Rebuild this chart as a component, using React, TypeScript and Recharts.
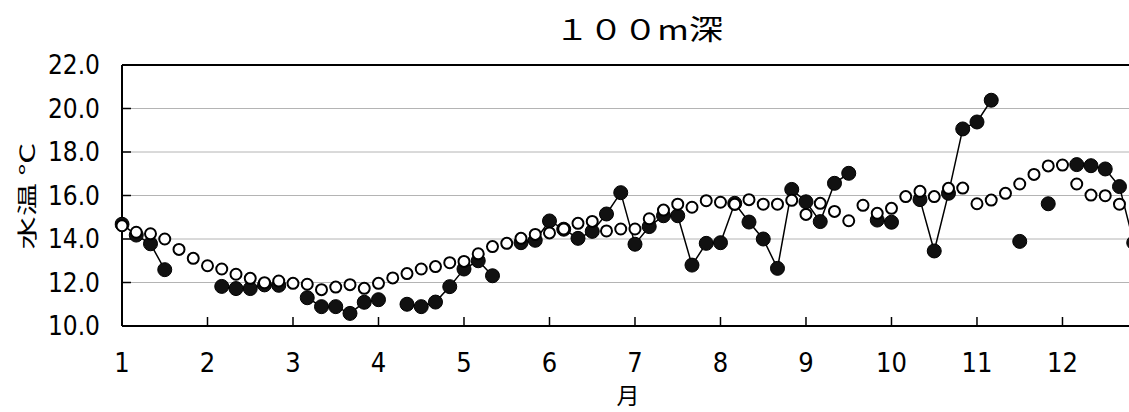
import React from "react";
import { CartesianGrid, Line, LineChart, ReferenceLine, XAxis, YAxis } from "recharts";

// 半旬 (5-day) steps, 6 per month, starting at Jan 1
const observed: (number | null)[] = [
  14.68, 14.18, 13.78, 12.59, null, null,
  null, 11.82, 11.72, 11.72, 11.89, 11.87,
  null, 11.3, 10.89, 10.89, 10.58, 11.09,
  11.21, null, 11.0, 10.89, 11.1, 11.81,
  12.62, 13.0, 12.31, null, 13.83, 13.94,
  14.83, 14.45, 14.03, 14.35, 15.15, 16.13,
  13.76, 14.57, 15.07, 15.07, 12.8, 13.8,
  13.83, 15.64, 14.78, 14.0, 12.65, 16.28,
  15.71, 14.8, 16.56, 17.02, null, 14.87,
  14.77, null, 15.81, 13.45, 16.1, 19.06,
  19.38, 20.38, null, 13.89, null, 15.62,
  null, 17.42, 17.37, 17.22, 16.41, 13.83,
];

const normal: (number | null)[] = [
  14.61, 14.31, 14.24, 14.0, 13.52, 13.11,
  12.77, 12.62, 12.38, 12.19, 11.99, 12.07,
  11.96, 11.92, 11.67, 11.79, 11.9, 11.73,
  11.96, 12.21, 12.41, 12.62, 12.73, 12.91,
  12.97, 13.32, 13.65, 13.8, 14.03, 14.21,
  14.28, 14.46, 14.72, 14.81, 14.37, 14.46,
  14.46, 14.93, 15.33, 15.6, 15.46, 15.76,
  15.69, 15.6, 15.81, 15.6, 15.6, 15.78,
  15.13, 15.64, 15.27, 14.84, 15.55, 15.18,
  15.41, 15.95, 16.19, 15.95, 16.33, 16.34,
  15.62, 15.79, 16.1, 16.53, 16.97, 17.36,
  17.4, 16.53, 16.02, 15.99, 15.6, null,
];

const monthTicks = [1, 2, 3, 4, 5, 6, 7, 8, 9, 10, 11, 12];
const tempTicks = [10, 12, 14, 16, 18, 20, 22];

const rows = observed.map((v, i) => ({ x: 1 + i / 6, obs: v, norm: normal[i] }));

const NUM_FONT = "'Liberation Sans Narrow', 'DejaVu Sans Condensed', 'Liberation Sans', sans-serif";
const JP_FONT = "'Noto Sans CJK JP', sans-serif";

const YTick = ({ x, y, payload }: any) => (
  <g>
    <line x1={x} x2={x + 9} y1={y} y2={y} stroke="#000" strokeWidth={1.5} />
    <text x={x - 22} y={y} dy="0.36em" textAnchor="end" fontFamily={NUM_FONT} fontSize={26} fill="#000">
      {Number(payload.value).toFixed(1)}
    </text>
  </g>
);

const XTick = ({ x, y, payload }: any) => (
  <g>
    <line x1={x} x2={x} y1={y} y2={y - 9} stroke="#000" strokeWidth={1.5} />
    <text x={x} y={y + 46} textAnchor="middle" fontFamily={NUM_FONT} fontSize={27} fill="#000">
      {payload.value}
    </text>
  </g>
);

export default function App() {
  return (
    <div style={{ position: "absolute", left: 0, top: 0, width: 1129, height: 412, background: "#fff" }}>
      <LineChart width={1129} height={412} data={rows} margin={{ top: 65, right: 0, bottom: 0, left: 0 }}>
        <text x={639} y={40} textAnchor="middle" fontFamily={JP_FONT} fontSize={28} textLength={168} lengthAdjust="spacingAndGlyphs" fill="#000">
          １００m深
        </text>
        <CartesianGrid vertical={false} stroke="#b4b4b4" strokeWidth={1} />
        <XAxis
          type="number"
          dataKey="x"
          domain={[1, 12.778]}
          allowDataOverflow
          ticks={monthTicks}
          interval={0}
          height={86}
          tickSize={0}
          tickMargin={0}
          tickLine={false}
          tick={<XTick />}
          axisLine={{ stroke: "#000", strokeWidth: 2 }}
          label={{
            content: () => (
              <text x={628} y={404} textAnchor="middle" fontFamily={JP_FONT} fontSize={23} fill="#000">月</text>
            ),
          }}
        />
        <YAxis
          type="number"
          domain={[10, 22]}
          ticks={tempTicks}
          interval={0}
          width={122}
          tickSize={0}
          tickMargin={0}
          tickLine={false}
          tick={<YTick />}
          axisLine={{ stroke: "#000", strokeWidth: 2 }}
          label={{
            content: () => (
              <text
                x={26}
                y={196}
                transform="rotate(-90 26 196)"
                textAnchor="middle"
                dominantBaseline="central"
                fontFamily={JP_FONT}
                fontSize={20}
                textLength={107}
                lengthAdjust="spacingAndGlyphs"
                fill="#000"
              >
                水温 ℃
              </text>
            ),
          }}
        />
        <ReferenceLine y={22} stroke="#000" strokeWidth={2} />
        <Line
          dataKey="obs"
          stroke="#000"
          strokeWidth={1.5}
          connectNulls={false}
          dot={{ r: 7, fill: "#111", stroke: "#000", strokeWidth: 1, clipDot: false }}
          activeDot={false}
          isAnimationActive={false}
        />
        <Line
          dataKey="norm"
          stroke="none"
          strokeWidth={0}
          connectNulls={false}
          dot={{ r: 5.5, fill: "#fff", stroke: "#000", strokeWidth: 2, clipDot: false }}
          activeDot={false}
          isAnimationActive={false}
        />
      </LineChart>
    </div>
  );
}
